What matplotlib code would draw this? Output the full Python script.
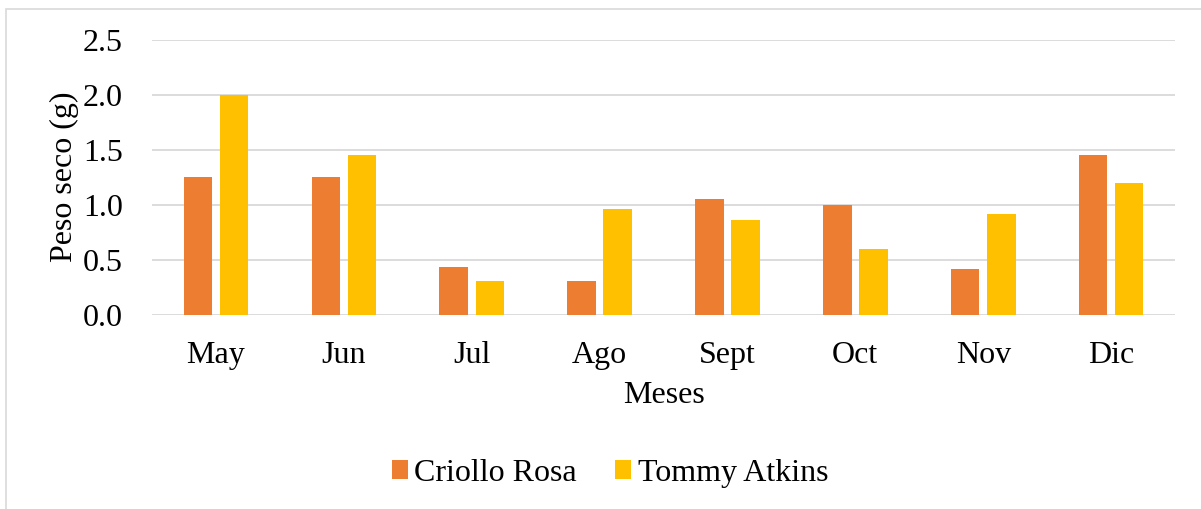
import matplotlib.pyplot as plt
import numpy as np
from matplotlib.patches import Rectangle

months = ["May", "Jun", "Jul", "Ago", "Sept", "Oct", "Nov", "Dic"]
criollo_rosa = [1.25, 1.25, 0.43, 0.31, 1.05, 1.00, 0.415, 1.45]
tommy_atkins = [2.00, 1.45, 0.31, 0.96, 0.86, 0.60, 0.915, 1.20]


def main():
    plt.rcParams["font.family"] = ["Liberation Serif", "DejaVu Serif"]

    fig = plt.figure(figsize=(12.01, 5.09), dpi=100)
    ax = fig.add_axes([0.1266, 0.3817, 0.8518, 0.5403])

    # light outer frame like the Excel chart area
    fig.patches.append(Rectangle((6 / 1201, -0.1), 1.2, 1.1 - 9 / 509,
                                 transform=fig.transFigure, fill=False,
                                 edgecolor="#d9d9d9", linewidth=1.2))

    x = np.arange(len(months))
    w = 0.223
    off = 0.141
    ax.bar(x - off, criollo_rosa, w, color="#ED7D31", label="Criollo Rosa", zorder=3)
    ax.bar(x + off, tommy_atkins, w, color="#FFC000", label="Tommy Atkins", zorder=3)

    ax.set_xlim(-0.5, len(months) - 0.5)
    ax.set_ylim(0, 2.5)
    ax.set_yticks(np.arange(0, 2.51, 0.5))
    ax.set_yticklabels([f"{v:.1f}" for v in np.arange(0, 2.51, 0.5)])
    ax.set_xticks(x)
    ax.set_xticklabels(months)

    ax.grid(axis="y", color="#d9d9d9", linewidth=1.3, zorder=0)
    for s in ["top", "right", "left", "bottom"]:
        ax.spines[s].set_visible(False)
    ax.tick_params(axis="both", length=0, labelsize=23)
    ax.tick_params(axis="y", pad=21)
    ax.tick_params(axis="x", pad=19)

    ax.set_xlabel("Meses", fontsize=23, labelpad=8)
    ax.set_ylabel("Peso seco (g)", fontsize=23, labelpad=3)

    fig.legend(loc="center", bbox_to_anchor=(0.508, 0.07), ncol=2, frameon=False,
               fontsize=23, handlelength=0.5, handleheight=0.5, handletextpad=0.2,
               columnspacing=1.2)

    fig.savefig("out.png", dpi=100)


if __name__ == "__main__":
    main()
